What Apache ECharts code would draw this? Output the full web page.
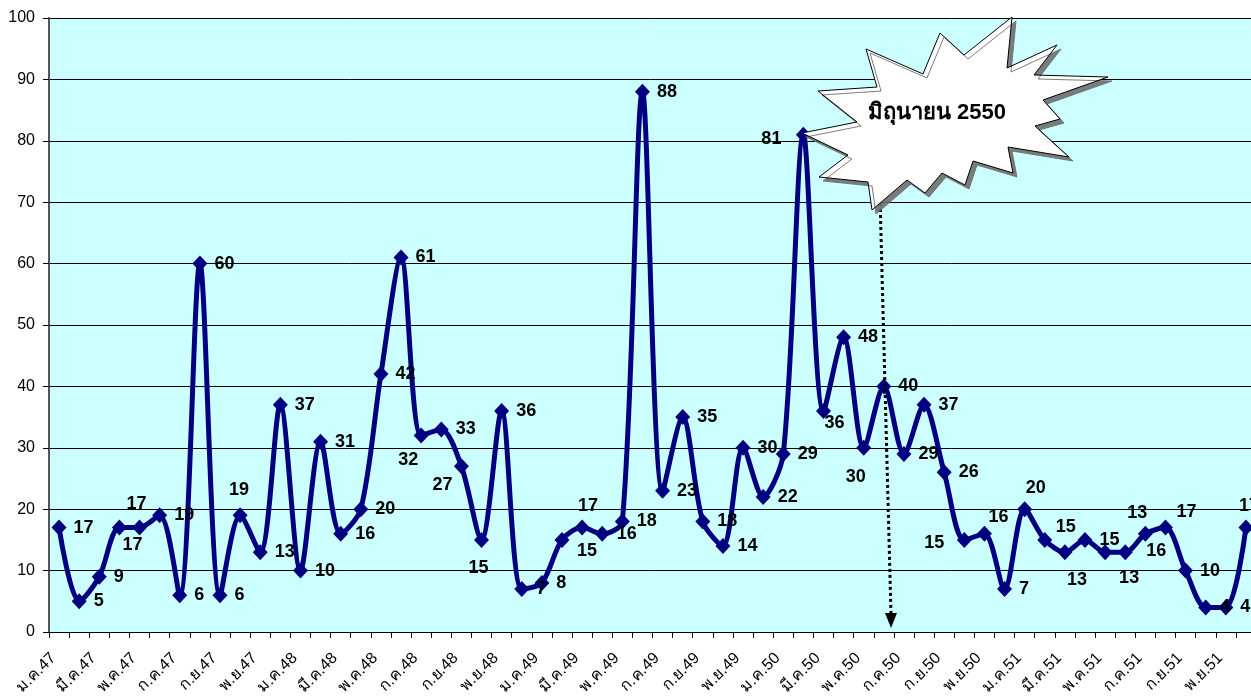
<!DOCTYPE html>
<html><head><meta charset="utf-8">
<script src="https://cdn.jsdelivr.net/npm/echarts@6/dist/echarts.min.js"></script>
<style>html,body{margin:0;padding:0;background:#fff}#c{width:1251px;height:696px}</style>
</head><body><div id="c"></div>
<script>
// ---- data ----
const monthNames = ['ม.ค.','ก.พ.','มี.ค.','เม.ย.','พ.ค.','มิ.ย.','ก.ค.','ส.ค.','ก.ย.','ต.ค.','พ.ย.','ธ.ค.'];
const years = ['47','48','49','50','51'];
const values47 = [17, 5, 9, 17, 17, 19, 6, 60, 6, 19, 13, 37];
const values48 = [10, 31, 16, 20, 42, 61, 32, 33, 27, 15, 36, 7];
const values49 = [8, 15, 17, 16, 18, 88, 23, 35, 18, 14, 30, 22];
const values50 = [29, 81, 36, 48, 30, 40, 29, 37, 26, 15, 16, 7];
const values51 = [20, 15, 13, 15, 13, 13, 16, 17, 10, 4, 4, 17];
const yMin = 0, yMax = 100, yInterval = 10;
const calloutText = 'มิถุนายน 2550';

const categories = [];
years.forEach(y => monthNames.forEach(m => categories.push(m + y)));
const values = [].concat(values47, values48, values49, values50, values51);

// ---- style: label placement exceptions (offset of label centre from the marker centre) ----
const labelOffsets = {
  3:[13,17], 4:[-3,-24], 9:[-1,-25], 18:[-13,25], 20:[-19,19], 21:[-3,28],
  25:[25,11], 26:[6,-22], 37:[-32,4], 38:[11,12], 40:[-8,29], 45:[-30,3],
  46:[14,-17], 48:[11,-21], 49:[21,-13], 50:[12,28], 52:[24,26], 53:[12,-39],
  54:[11,17], 55:[21,-16], 59:[3,-22]
};
const FONT = "'Liberation Sans', Arial, sans-serif";
const SYM_W = 15, SYM_H = 16;

const seriesData = values.map((v, i) => {
  const o = labelOffsets[i];
  return o ? { value: v, label: { position: [SYM_W / 2 + o[0], SYM_H / 2 + o[1]], align: 'center', verticalAlign: 'middle' } } : v;
});

const chart = echarts.init(document.getElementById('c'), null, { renderer: 'canvas' });
chart.setOption({
  animation: false,
  backgroundColor: '#ffffff',
  textStyle: { fontFamily: FONT },
  grid: { left: 49, top: 18, width: 1207, height: 614, show: true, backgroundColor: '#CCFFFF', borderWidth: 0, outerBoundsMode: 'none', containLabel: false },
  xAxis: {
    type: 'category', data: categories, boundaryGap: true,
    axisLine: { lineStyle: { color: '#000', width: 1 } },
    axisTick: { show: true, interval: 0, length: 6, lineStyle: { color: '#000' } },
    axisLabel: { interval: 1, rotate: 45, margin: 18, padding: [0, 8, 0, 0], fontSize: 16, color: '#000', fontFamily: FONT },
    splitLine: { show: false }
  },
  yAxis: {
    type: 'value', min: yMin, max: yMax, interval: yInterval,
    axisLine: { show: true, lineStyle: { color: '#555', width: 2 } },
    axisTick: { show: true, length: 6, lineStyle: { color: '#000' } },
    axisLabel: { margin: 14, fontSize: 16, color: '#000', fontFamily: FONT },
    splitLine: { show: true, lineStyle: { color: '#000', width: 1 } }
  },
  series: [{
    type: 'line', data: seriesData, smooth: 0.3, showAllSymbol: true,
    symbol: 'diamond', symbolSize: [SYM_W, SYM_H],
    lineStyle: { color: '#000080', width: 5 },
    itemStyle: { color: '#000080' },
    label: { show: true, position: 'right', distance: 7, fontSize: 18, fontWeight: 'bold', color: '#000', fontFamily: FONT },
    labelLayout: { hideOverlap: false },
    z: 3
  }],
  graphic: [
    { type: 'line', z: 50, shape: { x1: 880, y1: 197, x2: 891, y2: 614 },
      style: { stroke: '#000', lineWidth: 3, lineDash: [3, 3] } },
    { type: 'polygon', z: 50, shape: { points: [[885, 613], [897, 613], [891, 628]] }, style: { fill: '#000' } },
    { type: 'polygon', z: 60,
      shape: { points: [[866,49],[923,74],[940,33],[964,55],[1012,17],[1007,68],[1057,45],[1034,75],[1108,77],[1043,100],[1060,119],[1035,126],[1069,157],[1008,147],[1013,173],[973,161],[965,185],[942,173],[925,193],[907,180],[872,210],[868,182],[819,177],[848,155],[802,133],[857,122],[818,91],[877,87]] },
      style: { fill: '#fff', stroke: '#000', lineWidth: 1, shadowColor: 'rgba(110,110,110,0.9)', shadowOffsetX: 4, shadowOffsetY: 4, shadowBlur: 0 } },
    { type: 'text', z: 61, x: 937, y: 113,
      style: { text: calloutText, font: "bold 22px " + FONT, fill: '#000', align: 'center', verticalAlign: 'middle', textAlign: 'center', textVerticalAlign: 'middle' } }
  ]
});
</script></body></html>
